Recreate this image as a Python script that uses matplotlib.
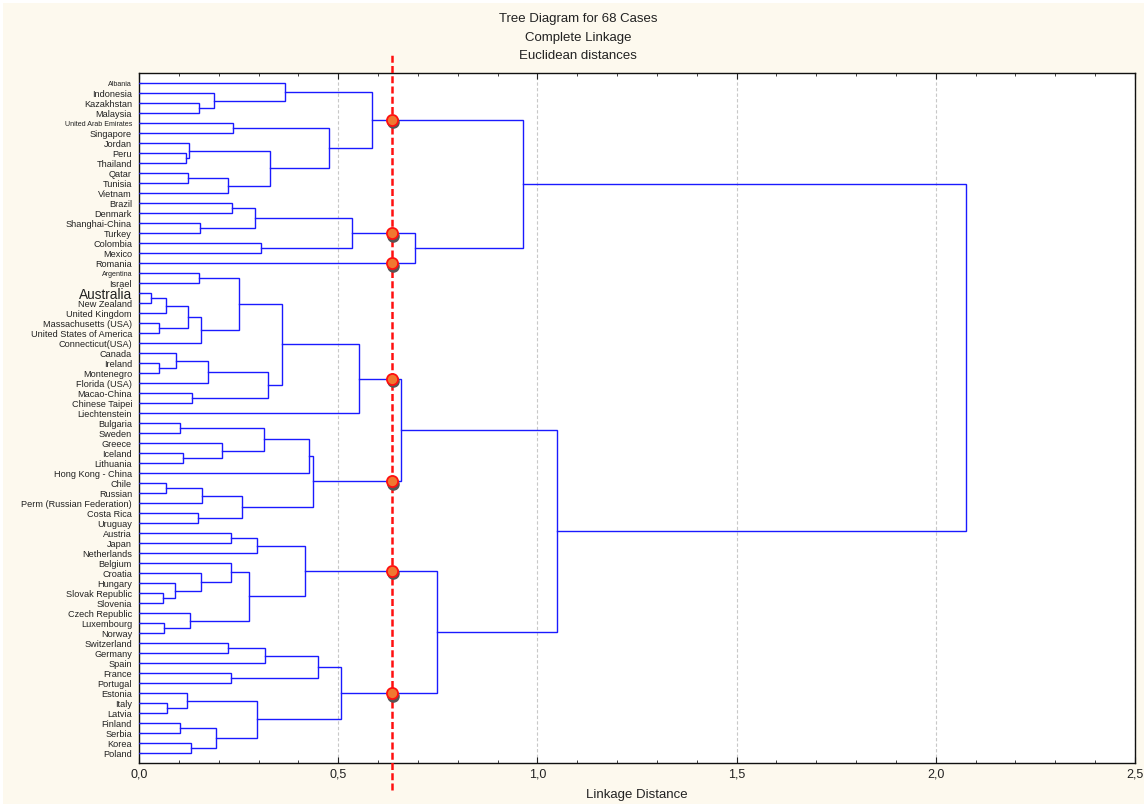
import matplotlib
matplotlib.use("Agg")
import matplotlib.pyplot as plt
from matplotlib.ticker import MultipleLocator, FuncFormatter
from matplotlib.transforms import offset_copy

# leaf order, top to bottom
leaves = [
    "Albania", "Indonesia", "Kazakhstan", "Malaysia", "United Arab Emirates",
    "Singapore", "Jordan", "Peru", "Thailand", "Qatar", "Tunisia", "Vietnam",
    "Brazil", "Denmark", "Shanghai-China", "Turkey", "Colombia", "Mexico",
    "Romania", "Argentina", "Israel", "Australia", "New Zealand",
    "United Kingdom", "Massachusetts (USA)", "United States of America",
    "Connecticut(USA)", "Canada", "Ireland", "Montenegro", "Florida (USA)",
    "Macao-China", "Chinese Taipei", "Liechtenstein", "Bulgaria", "Sweden",
    "Greece", "Iceland", "Lithuania", "Hong Kong - China", "Chile", "Russian",
    "Perm (Russian Federation)", "Costa Rica", "Uruguay", "Austria", "Japan",
    "Netherlands", "Belgium", "Croatia", "Hungary", "Slovak Republic",
    "Slovenia", "Czech Republic", "Luxembourg", "Norway", "Switzerland",
    "Germany", "Spain", "France", "Portugal", "Estonia", "Italy", "Latvia",
    "Finland", "Serbia", "Korea", "Poland",
]

# labels drawn in an odd font size in the original
small_labels = ["Albania", "United Arab Emirates", "Argentina"]
big_labels = ["Australia"]

# merges: (left, right, linkage distance); ints refer to earlier merges
links = [
    ("Kazakhstan", "Malaysia", 0.150),                       # 0
    ("Indonesia", 0, 0.188),                                 # 1
    ("Albania", 1, 0.367),                                   # 2
    ("United Arab Emirates", "Singapore", 0.237),            # 3
    ("Peru", "Thailand", 0.118),                             # 4
    ("Jordan", 4, 0.125),                                    # 5
    ("Qatar", "Tunisia", 0.122),                             # 6
    (6, "Vietnam", 0.224),                                   # 7
    (5, 7, 0.329),                                           # 8
    (3, 8, 0.478),                                           # 9
    (2, 9, 0.586),                                           # 10
    ("Brazil", "Denmark", 0.234),                            # 11
    ("Shanghai-China", "Turkey", 0.153),                     # 12
    (11, 12, 0.291),                                         # 13
    ("Colombia", "Mexico", 0.306),                           # 14
    (13, 14, 0.534),                                         # 15
    (15, "Romania", 0.693),                                  # 16
    (10, 16, 0.963),                                         # 17
    ("Argentina", "Israel", 0.150),                          # 18
    ("Australia", "New Zealand", 0.029),                     # 19
    (19, "United Kingdom", 0.067),                           # 20
    ("Massachusetts (USA)", "United States of America", 0.051),  # 21
    (20, 21, 0.124),                                         # 22
    (22, "Connecticut(USA)", 0.156),                         # 23
    (18, 23, 0.250),                                         # 24
    ("Ireland", "Montenegro", 0.050),                        # 25
    ("Canada", 25, 0.092),                                   # 26
    (26, "Florida (USA)", 0.173),                            # 27
    ("Macao-China", "Chinese Taipei", 0.134),                # 28
    (27, 28, 0.325),                                         # 29
    (24, 29, 0.360),                                         # 30
    (30, "Liechtenstein", 0.553),                            # 31
    ("Bulgaria", "Sweden", 0.103),                           # 32
    ("Iceland", "Lithuania", 0.111),                         # 33
    ("Greece", 33, 0.209),                                   # 34
    (32, 34, 0.313),                                         # 35
    (35, "Hong Kong - China", 0.427),                        # 36
    ("Chile", "Russian", 0.067),                             # 37
    (37, "Perm (Russian Federation)", 0.159),                # 38
    ("Costa Rica", "Uruguay", 0.149),                        # 39
    (38, 39, 0.258),                                         # 40
    (36, 40, 0.436),                                         # 41
    (31, 41, 0.658),                                         # 42
    ("Austria", "Japan", 0.230),                             # 43
    (43, "Netherlands", 0.297),                              # 44
    ("Slovak Republic", "Slovenia", 0.059),                  # 45
    ("Hungary", 45, 0.091),                                  # 46
    ("Croatia", 46, 0.156),                                  # 47
    ("Belgium", 47, 0.232),                                  # 48
    ("Luxembourg", "Norway", 0.062),                         # 49
    ("Czech Republic", 49, 0.129),                           # 50
    (48, 50, 0.276),                                         # 51
    (44, 51, 0.416),                                         # 52
    ("Switzerland", "Germany", 0.224),                       # 53
    (53, "Spain", 0.316),                                    # 54
    ("France", "Portugal", 0.231),                           # 55
    (54, 55, 0.450),                                         # 56
    ("Italy", "Latvia", 0.069),                              # 57
    ("Estonia", 57, 0.121),                                  # 58
    ("Finland", "Serbia", 0.102),                            # 59
    ("Korea", "Poland", 0.131),                              # 60
    (59, 60, 0.192),                                         # 61
    (58, 61, 0.297),                                         # 62
    (56, 62, 0.506),                                         # 63
    (52, 63, 0.747),                                         # 64
    (42, 64, 1.050),                                         # 65
    (17, 65, 2.075),                                         # 66
]

cut = 0.636

plt.rcParams['font.family'] = ['Liberation Sans', 'DejaVu Sans']
bg = '#fdf9ee'
line_col = '#1a1aff'

fig = plt.figure(figsize=(11.47, 8.07), dpi=100, facecolor=bg)
fig.patch.set_edgecolor('white')
fig.patch.set_linewidth(3)
ax = fig.add_axes([0.1212, 0.0545, 0.8683, 0.855])
ax.set_facecolor('white')

pos = {name: i for i, name in enumerate(leaves)}
node_y = []
node_h = []
parent_h = {}

def get(ref):
    if isinstance(ref, str):
        return pos[ref], 0.0
    return node_y[ref], node_h[ref]

for a, b, h in links:
    ya, ha = get(a)
    yb, hb = get(b)
    ax.plot([ha, h, h, hb], [ya, ya, yb, yb], color=line_col, lw=1.0,
            solid_joinstyle='miter', zorder=3)
    parent_h[a] = h
    parent_h[b] = h
    node_y.append((ya + yb) / 2)
    node_h.append(h)

# clusters cut by the dashed line
cut_y = []
for ref, ph in parent_h.items():
    y, hh = get(ref)
    if hh < cut < ph:
        cut_y.append(y)

ax.axvline(cut, ymin=-0.039, ymax=1.029, color='#ff1010', lw=1.8,
           dashes=(2.8, 1.3), clip_on=False, zorder=4)
shadow = offset_copy(ax.transData, fig=fig, x=0.7, y=-1.8, units='points')
ax.plot([cut] * len(cut_y), cut_y, 'o', ms=8, color='#555555',
        mec='#555555', transform=shadow, zorder=5)
ax.plot([cut] * len(cut_y), cut_y, 'o', ms=8, color='#f07830',
        mec='#ff1010', mew=1.3, zorder=6)

ax.set_xlim(0, 2.5)
ax.set_ylim(68, -1)
ax.xaxis.set_major_locator(MultipleLocator(0.5))
ax.xaxis.set_minor_locator(MultipleLocator(0.1))
ax.xaxis.set_major_formatter(FuncFormatter(lambda v, p: f"{v:.1f}".replace('.', ',')))
ax.grid(axis='x', which='major', color='#c8c8c8', ls=(0, (3, 2)), lw=0.8, zorder=0)
ax.tick_params(axis='x', which='both', direction='in', top=True, bottom=True,
               labelsize=9, pad=4, colors='#222222')
ax.tick_params(axis='x', which='major', length=4)
ax.tick_params(axis='x', which='minor', length=2.5)

ax.set_yticks(range(len(leaves)))
ax.set_yticklabels(leaves)
ax.tick_params(axis='y', direction='in', length=2.5, pad=5, labelsize=6.6,
               colors='#222222')
for lab in ax.get_yticklabels():
    if lab.get_text() in small_labels:
        lab.set_fontsize(5.1)
    elif lab.get_text() in big_labels:
        lab.set_fontsize(9.8)

for s in ax.spines.values():
    s.set_color('#111111')
    s.set_linewidth(1.0)

ax.set_xlabel("Linkage Distance", fontsize=9.5, color='#222222', labelpad=6)

fig.text(0.504, 1 - 19 / 807, "Tree Diagram for 68 Cases", ha='center', va='center',
         fontsize=9.5, color='#222222')
fig.text(0.504, 1 - 38 / 807, "Complete Linkage", ha='center', va='center',
         fontsize=9.5, color='#222222')
fig.text(0.504, 1 - 56 / 807, "Euclidean distances", ha='center', va='center',
         fontsize=9.5, color='#222222')

plt.savefig("out.png", dpi=100, facecolor=bg, edgecolor='white')
